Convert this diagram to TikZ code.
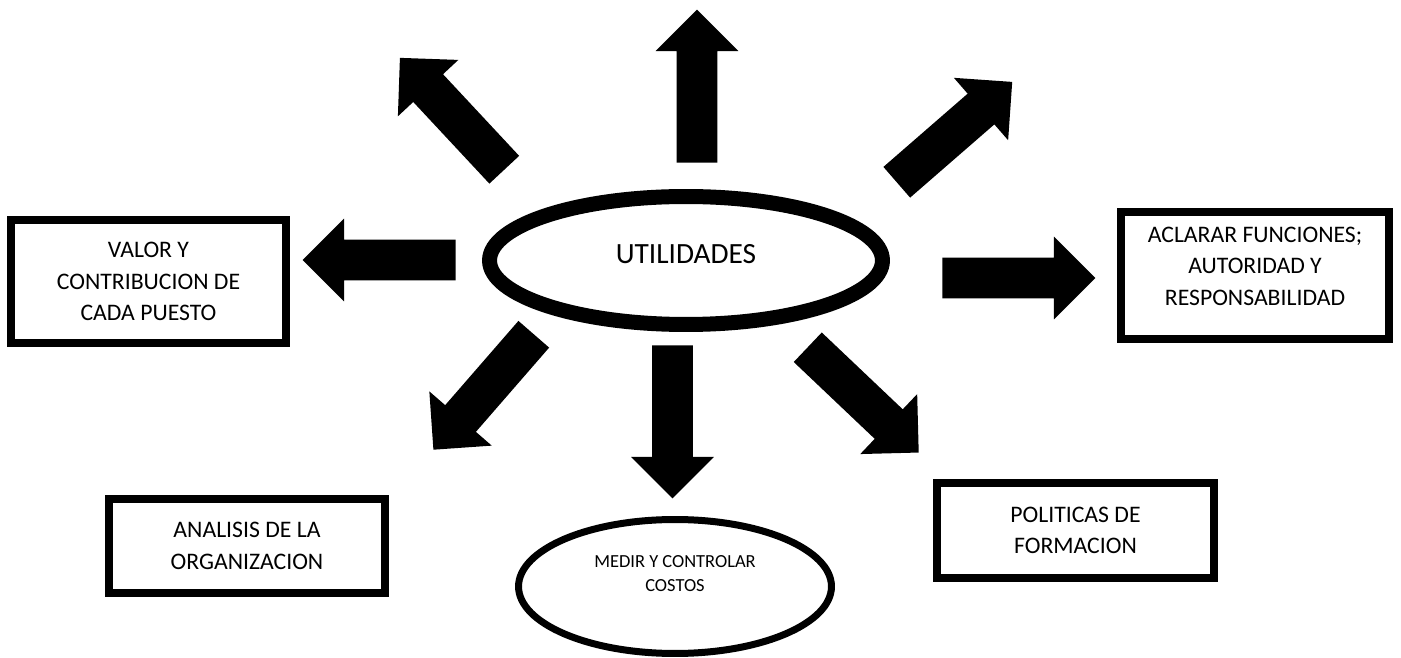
\documentclass[tikz,border=0pt]{standalone}
\usepackage{fontspec}
\setmainfont{Carlito}
\usetikzlibrary{shapes.geometric,shapes.arrows}
\tikzset{
  bigarrow/.style={single arrow, fill=black, draw=none, inner sep=0pt, inner ysep=0.4cm,
    single arrow head extend=0.42cm, single arrow tip angle=90, minimum height=3.06cm,
    anchor=tail},
  marco/.style={draw, line width=0.16cm, align=center, font=\fontsize{13.5}{18}\selectfont},
  ovalo/.style={ellipse, draw, align=center, inner sep=0pt}
}
\begin{document}
\begin{tikzpicture}[x=0.02cm, y=-0.02cm]
\useasboundingbox (0,0) rectangle (1401,658);
% centro
\node[ovalo, line width=0.3cm, minimum width=7.86cm, minimum height=2.56cm,
  font=\fontsize{16.7}{18}\selectfont, text depth=7.4pt] (util) at (686,260.5) {UTILIDADES};
% flechas (colocadas por la cola)
\node[bigarrow, rotate=90] (aN) at (697,163) {};
\node[bigarrow, rotate=133] (aNO) at (504.5,170) {};
\node[bigarrow, rotate=41] (aNE) at (896.5,182.5) {};
\node[bigarrow, rotate=180] (aO) at (456,260) {};
\node[bigarrow] (aE) at (942,278) {};
\node[bigarrow, rotate=229] (aSO) at (534,334) {};
\node[bigarrow, rotate=-90] (aS) at (672.5,345) {};
\node[bigarrow, rotate=-43.5] (aSE) at (807.5,347) {};
% cuadros
\node[marco, minimum width=5.5cm, minimum height=2.46cm] (valor) at (148.5,281.5)
  {VALOR Y\\CONTRIBUCION DE\\CADA PUESTO};
\node[marco, minimum width=5.36cm, minimum height=2.54cm, text depth=10.8pt] (aclarar) at (1255,275.5)
  {ACLARAR FUNCIONES;\\AUTORIDAD Y\\RESPONSABILIDAD};
\node[marco, minimum width=5.52cm, minimum height=1.88cm] (analisis) at (247,546)
  {ANALISIS DE LA\\ORGANIZACION};
\node[marco, minimum width=5.54cm, minimum height=1.9cm] (politicas) at (1075.5,530.5)
  {POLITICAS DE\\FORMACION};
\node[ovalo, line width=0.14cm, minimum width=6.26cm, minimum height=2.68cm,
  font=\fontsize{10.5}{13.6}\selectfont, text depth=14.7pt] (costos) at (675,586.5)
  {MEDIR Y CONTROLAR\\COSTOS};
\end{tikzpicture}
\end{document}
